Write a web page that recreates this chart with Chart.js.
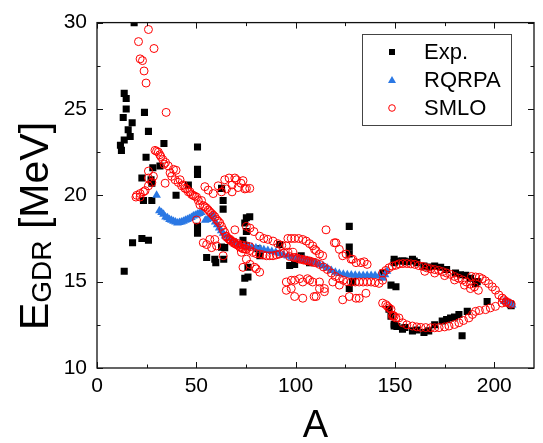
<!DOCTYPE html>
<html>
<head>
<meta charset="utf-8">
<script src="https://cdn.jsdelivr.net/npm/chart.js@4.4.1/dist/chart.umd.min.js"></script>
<style>
  html, body { margin: 0; padding: 0; background: #fff; }
  #wrap { width: 543px; height: 443px; }
</style>
</head>
<body>
<div id="wrap"><canvas id="gdrChart" width="543" height="443"></canvas></div>
<script>
// ---- data (A, E_GDR in MeV) ----
const xTicks = [0, 50, 100, 150, 200];
const yTicks = [10, 15, 20, 25, 30];
const xMinorTicks = [25, 75, 125, 175];
const yMinorTicks = [12.5, 17.5, 22.5, 27.5];
const seriesNames = ['Exp.', 'RQRPA', 'SMLO'];

const expPoints = [
  [11.8,22.9],[12.3,22.6],[13.2,24.5],[13.7,25.9],[14.7,25.6],[14.7,25.0],[13.7,23.2],[15.7,23.8],
  [16.7,23.4],[17.7,24.2],[18.7,30.0],[23.9,24.8],[25.9,23.7],[24.7,22.2],[28.1,21.6],[31.7,21.7],
  [33.7,23.0],[22.6,21.0],[27.2,20.9],[27.6,20.7],[23.4,19.7],[27.6,19.7],[39.8,20.0],[46.0,20.6],
  [50.6,22.8],[50.6,21.5],[50.6,21.2],[17.9,17.25],[22.6,17.5],[25.9,17.4],[13.7,15.6],[50.6,18.2],
  [50.6,17.8],[55.2,16.4],[59.3,16.3],[59.8,16.1],[63.8,16.3],[62.7,17.0],[64.3,16.97],[62.7,20.4],
  [63.5,19.7],[63.5,19.2],[73.5,14.4],[74.4,15.2],[76.0,15.83],[76.0,15.27],[75.2,18.7],[76.9,18.76],
  [74.4,18.4],[75.2,17.9],[73.5,17.4],[75.2,17.07],[81.0,16.9],[82.0,16.5],[92.0,17.15],[97.0,15.93],
  [99.5,16.0],[102.8,16.5],[107.0,16.1],[127.0,18.2],[127.0,17.0],[127.0,16.6],[128.7,15.0],[127.0,14.6],
  [144.0,15.5],[148.0,14.8],[150.5,14.7],[149.6,16.1],[154.6,16.2],[159.7,16.2],[147.0,13.4],[148.0,13.0],
  [149.6,12.53],[149.6,16.3],[151.0,16.2],[153.8,16.2],[156.0,16.15],[158.8,16.3],[161.0,16.1],[164.6,15.9],
  [167.0,15.85],[170.0,15.9],[173.0,15.83],[176.0,15.7],[180.5,15.5],[183.0,15.4],[185.6,15.37],[188.0,15.2],
  [191.4,15.0],[190.6,14.9],[196.4,13.85],[208.5,13.6],[208.1,13.7],[149.6,12.43],[151.0,12.4],[153.8,12.25],
  [155.0,12.35],[158.8,12.15],[161.0,12.2],[164.6,12.06],[167.0,12.15],[170.0,12.5],[173.8,12.72],[176.0,12.8],
  [178.0,12.9],[180.0,12.95],[182.2,13.1],[183.8,11.87],[186.4,13.28]
];

const rqrpaPoints = [
  [30.0,20.0],[31.4,19.1],[32.5,19.0],[33.5,18.9],[34.5,18.75],[35.5,18.7],[36.5,18.6],[37.5,18.55],
  [38.5,18.5],[39.5,18.45],[40.5,18.4],[41.5,18.42],[42.5,18.45],[43.5,18.5],[44.5,18.55],[45.5,18.6],
  [46.5,18.65],[47.5,18.72],[48.5,18.8],[49.5,18.85],[50.5,18.9],[51.5,18.95],[52.5,19.0],[54.5,18.55],
  [55.5,18.6],[56.5,18.65],[57.5,18.75],[58.5,18.85],[59.5,18.45],[60.5,18.3],[61.5,18.1],[62.5,17.95],
  [63.5,17.8],[64.5,17.65],[66.0,17.5],[68.0,17.35],[70.0,17.25],[72.0,17.15],[74.0,17.1],[76.0,17.05],
  [78.0,17.0],[80.0,16.95],[82.0,16.9],[84.0,16.85],[86.0,16.8],[88.0,16.75],[90.0,16.7],[92.0,16.62],
  [94.0,16.55],[96.0,16.48],[98.0,16.42],[100.0,16.38],[102.0,16.32],[104.0,16.28],[106.0,16.22],[108.0,16.15],
  [110.0,16.1],[112.0,16.0],[114.0,15.9],[116.0,15.78],[118.0,15.65],[120.0,15.55],[122.0,15.47],[124.0,15.43],
  [126.0,15.4],[128.0,15.38],[130.0,15.37],[132.0,15.36],[134.0,15.36],[136.0,15.36],[138.0,15.36],[140.0,15.35],
  [142.0,15.32],[144.0,15.2],[145.0,15.4],[146.0,15.6],[205.0,13.85],[206.5,13.8],[208.0,13.75],[209.0,13.65]
];

const smloPoints = [
  // scattered light nuclei
  [20.9,28.9],[21.7,27.9],[22.9,27.8],[23.7,27.2],[24.7,26.5],[25.9,29.6],[28.7,28.5],[34.8,24.8],
  [19.6,19.9],[20.0,20.0],[21.7,19.9],[21.7,20.1],[23.4,20.2],[24.2,20.27],[25.9,20.55],[25.9,21.0],
  [27.6,20.75],[28.4,21.1],[25.9,21.4],[34.3,20.7],
  // steep band A 29-56
  [29.2,22.6],[30.0,22.55],[30.9,22.5],[31.6,22.35],[32.1,22.25],[33.1,22.07],[33.8,21.8],[34.5,21.9],
  [35.9,21.7],[36.8,21.3],[37.6,21.1],[38.5,21.5],[39.8,21.45],[39.3,20.9],[40.9,20.75],[41.8,20.9],
  [42.6,20.55],[43.5,20.6],[44.3,20.4],[45.1,20.37],[46.0,20.2],[46.8,20.2],[47.6,20.05],[48.4,20.0],
  [49.2,19.95],[50.1,19.9],[51.0,19.7],[51.8,19.45],[52.6,19.7],[53.5,19.4],[54.3,19.33],[55.2,19.25],
  [56.0,19.15],[56.8,19.05],[57.7,18.95],[58.5,18.85],[59.3,18.76],[60.2,18.6],[61.0,18.5],[61.8,18.4],
  [62.7,18.2],[63.5,18.0],[64.3,17.85],[65.2,17.63],[66.0,17.5],[66.9,17.4],[67.7,17.35],[68.6,17.25],
  [69.4,17.2],[70.2,17.15],[71.0,17.1],[71.9,17.0],[72.7,16.97],[73.5,16.9],[74.4,16.9],[75.2,16.87],
  [76.9,16.8],[78.5,16.7],[80.2,16.62],[81.9,16.6],[83.6,16.55],[85.3,16.5],[87.0,16.5],[88.6,16.5],
  [90.3,16.55],[91.9,16.6],[94.0,16.65],[96.1,16.7],[98.6,16.7],[100.0,16.4],[102.0,16.3],[104.0,16.25],
  [106.0,16.2],[108.0,16.15],[110.0,16.1],[112.0,16.0],[114.0,15.85],[116.0,15.7],[118.0,15.5],[120.0,15.3],
  [122.0,15.17],[124.0,15.08],[126.0,15.0],[128.0,14.98],[130.0,14.98],[132.0,14.98],[134.0,14.98],[136.0,14.98],
  [138.0,14.98],[140.0,14.95],[142.0,14.9],[143.8,15.08],
  // on top of the theory chain
  [65.0,17.6],[67.0,17.45],[69.0,17.3],[71.0,17.2],[73.0,17.12],[75.0,17.08],[77.0,17.02],
  [97.0,16.45],[99.0,16.4],[101.0,16.35],[103.0,16.3],[105.0,16.25],[107.0,16.2],[109.0,16.12],
  // side band E~20-21, A 54-77
  [54.3,20.5],[56.0,20.3],[58.5,20.1],[61.0,20.55],[62.7,20.2],[64.3,20.9],[65.2,20.37],[66.5,21.0],
  [68.0,20.6],[69.4,21.0],[70.2,20.9],[71.0,20.45],[72.5,20.7],[73.5,20.85],[74.4,20.37],[75.2,20.4],
  [76.9,20.4],[68.0,20.2],
  // odd points around A 50-80
  [50.1,18.57],[69.4,18.0],[53.5,17.25],[55.2,17.15],[57.7,16.97],[59.3,17.44],[60.2,17.07],[63.5,16.5],
  [56.8,17.44],[72.7,16.7],[75.2,16.3],[77.0,16.0],[79.4,15.83],[81.9,15.55],[73.5,15.83],[80.2,15.74],
  // upper band A 75-137
  [75.2,18.2],[77.0,18.1],[79.0,17.9],[81.9,17.63],[84.0,17.5],[86.0,17.45],[88.6,17.35],[91.0,17.2],
  [93.0,17.1],[95.3,17.07],[96.1,17.5],[97.8,17.5],[99.5,17.5],[101.5,17.5],[103.6,17.44],[105.3,17.35],
  [107.0,17.2],[108.6,17.07],[109.5,16.87],[110.3,16.8],[112.0,16.6],[113.6,16.5],[115.3,18.0],[119.5,17.25],
  [120.3,17.25],[122.0,16.87],[123.7,16.5],[125.4,16.6],[127.9,16.3],[128.7,16.3],[130.4,16.1],[132.9,16.1],
  [134.5,16.15],[136.0,16.0],
  // lower bands A 95-148
  [95.3,14.98],[97.8,15.08],[99.5,15.08],[102.0,15.17],[103.6,14.98],[106.0,15.17],[107.0,15.08],[108.6,14.98],
  [112.0,14.98],[114.5,14.6],[112.0,14.6],[114.5,14.42],[110.3,14.14],[109.3,14.14],[103.6,14.04],[99.5,14.14],
  [97.8,14.6],[95.3,14.5],[118.7,14.98],[122.0,14.8],[123.7,13.95],[127.0,14.14],[130.4,14.04],[132.0,14.04],
  [135.4,14.33],[143.8,13.76],[145.4,13.67],[147.0,13.48],[148.0,13.4],[148.7,13.0],[149.6,13.0],[152.0,12.9],
  // loop, upper branch
  [143.8,15.5],[145.4,15.65],[147.0,15.8],[148.7,15.9],[150.5,15.95],[152.1,16.03],[154.0,16.05],[156.0,16.05],
  [158.0,16.03],[160.0,16.0],[162.0,15.93],[164.0,15.88],[166.0,15.8],[168.0,15.74],[170.0,15.7],[172.0,15.65],
  [174.0,15.58],[176.0,15.5],[178.0,15.42],[180.0,15.3],[182.0,15.2],[184.0,15.1],[186.0,14.98],[188.0,14.85],
  [190.0,14.7],[192.0,14.5],[165.0,15.6],[170.0,15.5],[175.0,15.35],[180.0,15.1],[185.0,14.8],[188.0,14.6],
  [188.5,15.3],[190.6,15.27],[192.5,15.25],[193.9,15.17],[195.5,15.05],[197.2,14.89],[199.0,14.7],[200.6,14.51],
  [202.3,14.23],[204.0,14.05],[204.8,13.95],[206.0,13.85],[207.3,13.76],[208.5,13.7],
  // loop, lower branch
  [146.2,13.57],[149.0,13.05],[150.5,12.9],[153.8,12.62],[156.0,12.5],[158.8,12.43],[161.0,12.38],[163.0,12.35],
  [165.5,12.34],[168.0,12.33],[170.0,12.33],[172.2,12.34],[175.0,12.38],[177.2,12.43],[180.0,12.52],[182.2,12.62],
  [184.5,12.75],[187.2,12.9],[189.0,13.1],[190.6,13.28],[192.5,13.33],[195.6,13.38],[198.0,13.48],[200.6,13.57],
  [203.9,13.76],[206.0,13.8]
];

const toXY = pts => pts.map(p => ({ x: p[0], y: p[1] }));

const FONT = '"Liberation Sans", Arial, sans-serif';
const RED = '#ff0000';
const BLUE = 'rgb(43,120,228)';

// frame, inside ticks, axis titles and legend
const decorPlugin = {
  id: 'decor',
  afterDraw(chart) {
    const ctx = chart.ctx;
    const a = chart.chartArea;
    const xs = chart.scales.x, ys = chart.scales.y;
    ctx.save();
    ctx.strokeStyle = '#111';
    ctx.lineWidth = 1.3;
    ctx.strokeRect(a.left, a.top, a.right - a.left, a.bottom - a.top);

    ctx.lineWidth = 1;
    const xT = (vals, len) => vals.forEach(v => {
      const px = Math.round(xs.getPixelForValue(v)) + 0.5;
      ctx.beginPath();
      ctx.moveTo(px, a.bottom); ctx.lineTo(px, a.bottom - len);
      ctx.moveTo(px, a.top); ctx.lineTo(px, a.top + len);
      ctx.stroke();
    });
    const yT = (vals, len) => vals.forEach(v => {
      const py = Math.round(ys.getPixelForValue(v)) + 0.5;
      ctx.beginPath();
      ctx.moveTo(a.left, py); ctx.lineTo(a.left + len, py);
      ctx.moveTo(a.right, py); ctx.lineTo(a.right - len, py);
      ctx.stroke();
    });
    xT(xTicks, 6); xT(xMinorTicks, 3.5);
    yT(yTicks, 6); yT(yMinorTicks, 3.5);

    // x title
    ctx.fillStyle = '#000';
    ctx.textAlign = 'center';
    ctx.textBaseline = 'alphabetic';
    ctx.font = '38px ' + FONT;
    ctx.fillText('A', (a.left + a.right) / 2, 437);

    // y title with subscript
    ctx.save();
    ctx.translate(48, 226);
    ctx.rotate(-Math.PI / 2);
    const big = '41px ' + FONT, small = '28px ' + FONT;
    ctx.font = big; const wE = ctx.measureText('E').width;
    const wM = ctx.measureText(' [MeV]').width;
    ctx.font = small; const wG = ctx.measureText('GDR').width;
    let x0 = -(wE + wG + wM) / 2;
    ctx.textAlign = 'left';
    ctx.font = big; ctx.fillText('E', x0, 0);
    ctx.font = small; ctx.fillText('GDR', x0 + wE, 3);
    ctx.font = big; ctx.fillText(' [MeV]', x0 + wE + wG, 0);
    ctx.restore();

    // legend
    const lx = 362, ly = 34, lw = 149, lh = 91;
    ctx.fillStyle = '#fff';
    ctx.fillRect(lx, ly, lw, lh);
    ctx.strokeStyle = '#444';
    ctx.lineWidth = 1;
    ctx.strokeRect(lx + 0.5, ly + 0.5, lw, lh);
    const rows = [52, 80, 108];
    const mx = 392;
    ctx.fillStyle = '#000';
    ctx.fillRect(mx - 3, rows[0] - 3, 6, 6);
    ctx.fillStyle = BLUE;
    ctx.beginPath();
    ctx.moveTo(mx, rows[1] - 4); ctx.lineTo(mx + 4, rows[1] + 3); ctx.lineTo(mx - 4, rows[1] + 3);
    ctx.closePath(); ctx.fill();
    ctx.strokeStyle = RED;
    ctx.beginPath(); ctx.arc(mx, rows[2], 3.3, 0, Math.PI * 2); ctx.stroke();
    ctx.fillStyle = '#000';
    ctx.font = '22px ' + FONT;
    ctx.textAlign = 'left';
    ctx.textBaseline = 'middle';
    seriesNames.forEach((n, i) => ctx.fillText(n, 424, rows[i] + 1));
    ctx.restore();
  }
};

new Chart(document.getElementById('gdrChart').getContext('2d'), {
  type: 'scatter',
  data: {
    datasets: [
      {
        label: seriesNames[0], data: toXY(expPoints), order: 3, clip: 0,
        pointStyle: 'rect', pointRadius: 5, pointBorderWidth: 0,
        backgroundColor: '#000', borderColor: '#000'
      },
      {
        label: seriesNames[1], data: toXY(rqrpaPoints), order: 2, clip: 0,
        pointStyle: 'triangle', pointRadius: 5, pointBorderWidth: 0,
        backgroundColor: BLUE, borderColor: BLUE
      },
      {
        label: seriesNames[2], data: toXY(smloPoints), order: 1, clip: 0,
        pointStyle: 'circle', pointRadius: 4, pointBorderWidth: 1,
        backgroundColor: 'rgba(0,0,0,0)', borderColor: RED
      }
    ]
  },
  options: {
    responsive: false,
    animation: false,
    devicePixelRatio: 1,
    layout: { padding: { top: 15, right: 9, left: 0, bottom: 0 } },
    plugins: { legend: { display: false }, tooltip: { enabled: false } },
    scales: {
      x: {
        type: 'linear', min: 0, max: 220,
        grid: { display: false, drawTicks: false },
        border: { display: false },
        ticks: { color: '#000', font: { family: FONT, size: 21 }, padding: 6, maxRotation: 0, autoSkip: false },
        afterBuildTicks: s => { s.ticks = xTicks.map(v => ({ value: v })); },
        afterFit: s => { s.height = 75; }
      },
      y: {
        type: 'linear', min: 10, max: 30,
        grid: { display: false, drawTicks: false },
        border: { display: false },
        ticks: { color: '#000', font: { family: FONT, size: 21 }, padding: 10, autoSkip: false },
        afterBuildTicks: s => { s.ticks = yTicks.map(v => ({ value: v })); },
        afterFit: s => { s.width = 97; }
      }
    }
  },
  plugins: [decorPlugin]
});
</script>
</body>
</html>
